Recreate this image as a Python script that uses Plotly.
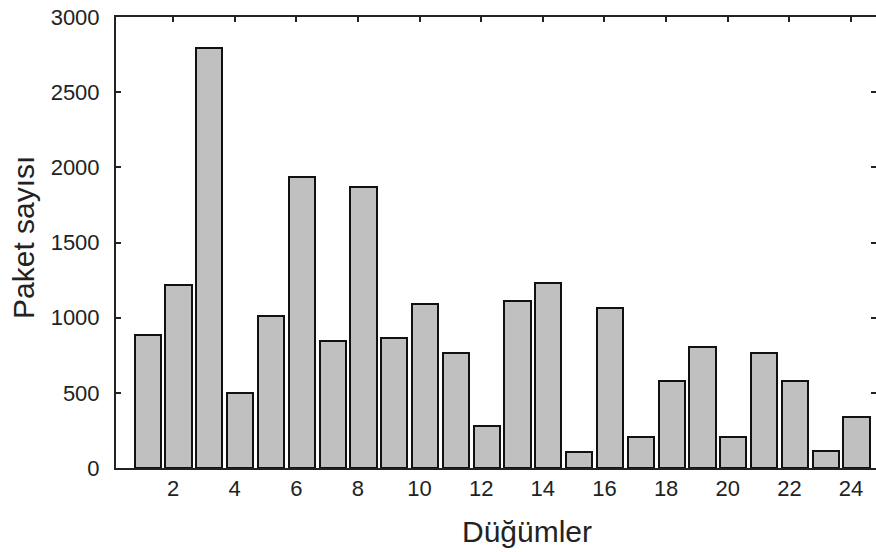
import plotly.graph_objects as go

nodes = list(range(1, 25))
packets = [885, 1215, 2795, 500, 1010, 1937, 843, 1872, 868, 1088,
           767, 282, 1113, 1228, 104, 1062, 204, 577, 804, 204,
           767, 577, 111, 342]

x_tickvals = list(range(2, 25, 2))
y_tickvals = list(range(0, 3001, 500))

FONT = "Liberation Sans, Arial, sans-serif"
INK = "#222222"

fig = go.Figure()
fig.add_trace(go.Bar(
    x=nodes, y=packets,
    width=0.85, offset=-0.245,
    marker=dict(color="#c0c0c0", line=dict(color="#111111", width=2)),
    showlegend=False,
))
# invisible trace to carry the right-side tick axis
fig.add_trace(go.Scatter(x=[nodes[0]], y=[0], yaxis="y2", mode="markers",
                         marker=dict(opacity=0), showlegend=False, hoverinfo="skip"))

fig.update_layout(
    width=876, height=552,
    margin=dict(l=116, r=0, t=17, b=84),
    paper_bgcolor="white", plot_bgcolor="white",
    font=dict(family=FONT, color=INK),
    bargap=0,
    xaxis=dict(
        range=[0.15, 24.81],
        tickvals=x_tickvals, ticktext=[str(v) for v in x_tickvals],
        ticks="inside", ticklen=5, tickwidth=2, tickcolor="#222",
        showline=True, linecolor="#222", linewidth=2, mirror="ticks",
        showgrid=False, zeroline=False,
        tickfont=dict(size=22, family=FONT, color=INK),
        ticklabelstandoff=0,
        layer="below traces",
    ),
    yaxis=dict(
        range=[0, 3000],
        tickvals=y_tickvals, ticktext=[str(v) for v in y_tickvals],
        ticks="inside", ticklen=5, tickwidth=2, tickcolor="#222",
        showline=True, linecolor="#222", linewidth=2, mirror=False,
        showgrid=False, zeroline=False,
        tickfont=dict(size=22, family=FONT, color=INK),
        ticklabelstandoff=10,
    ),
    yaxis2=dict(
        range=[0, 3000], overlaying="y", side="right",
        tickvals=y_tickvals, showticklabels=False,
        ticks="inside", ticklen=5, tickwidth=2, tickcolor="#222",
        showline=False, showgrid=False, zeroline=False,
    ),
    annotations=[
        dict(text="Düğümler", xref="paper", yref="paper",
             x=(526.5 - 116) / 760, y=-(531 - 468) / 451,
             xanchor="center", yanchor="middle", showarrow=False,
             font=dict(size=30, family=FONT, color=INK)),
        dict(text="Paket sayısı", xref="paper", yref="paper",
             x=-(116 - 23) / 760, y=(468 - 238) / 451,
             xanchor="center", yanchor="middle", textangle=-90, showarrow=False,
             font=dict(size=30, family=FONT, color=INK)),
    ],
)

fig.write_html("out.html")
